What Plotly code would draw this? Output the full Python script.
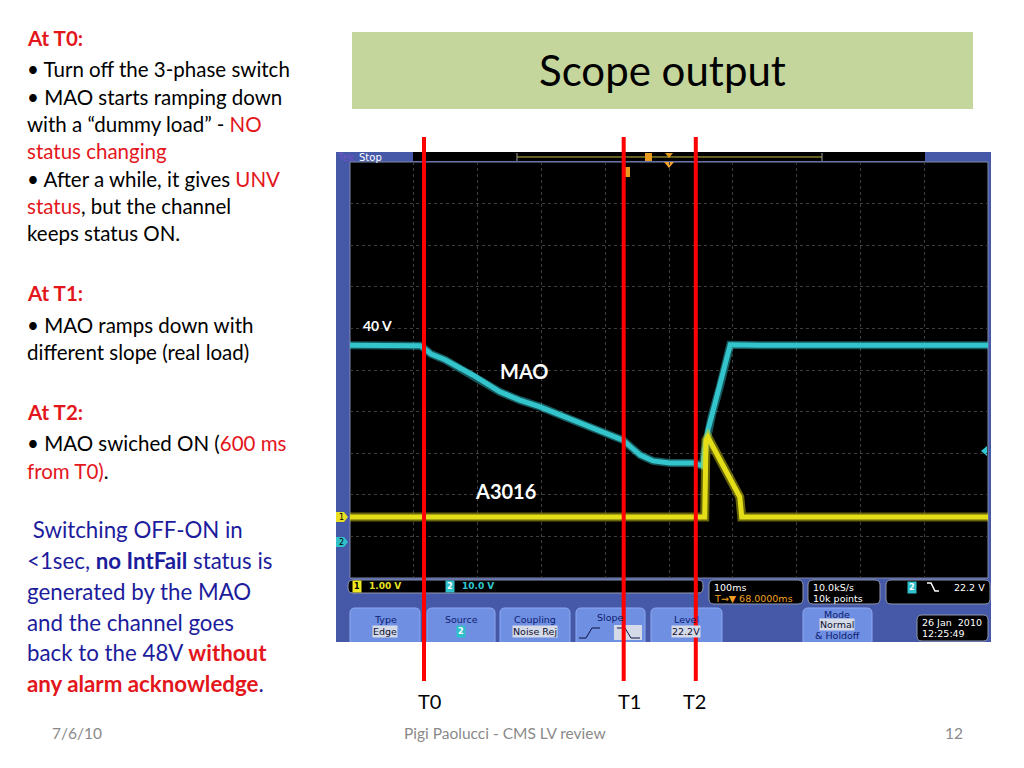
import plotly.graph_objects as go

# ---------------- data ----------------
# MAO output, channel 2 (10 V/div), time in ms relative to trigger
mao_t = [-432, -377, -322, -316, -305, -283, -239, -197, -166, -134, -83, -29, -4, 10, 23, 43, 70, 106, 121, 124, 129, 135, 148, 164, 211, 352, 568]
mao_v = [47.3, 47.4, 47.2, 46.6, 45.2, 43.8, 40.1, 36.1, 34.1, 32.5, 29.3, 26.2, 24.5, 22.6, 20.9, 19.5, 19.0, 19.0, 18.3, 22.1, 26.9, 30.3, 37.5, 47.4, 47.3, 47.2, 47.3]
# A3016 output, channel 1 (1 V/div)
a3016_t = [-432, 124, 126, 129, 138, 148, 159, 164, 175, 179, 182, 568]
a3016_v = [0.0, 0.0, 1.85, 1.92, 1.66, 1.37, 1.06, 0.96, 0.65, 0.48, 0.0, 0.0]
# time markers drawn on the slide
marker_names = ["T0", "T1", "T2"]
marker_t = [-316, -3, 110]
marker_shift = [5, 6, -1]

# screen settings
time_range = [-432, 568]     # 100 ms/div, 10 div
ch2_range = [-8.65, 91.35]   # 10 V/div
ch1_range = [-1.466, 8.534]  # 1 V/div

RED = "#e3161c"
NAVY = "#1c1c9c"
SLIDE_FONT = "Lato"
SCOPE_FONT = "DejaVu Sans"

# page has an 8 px body margin: figure covers 8..1024 x 8..768
OFF = 8
W, H = 1024 - OFF, 768 - OFF
def X(px): return (px - OFF) / W
def Y(py): return 1 - (py - OFF) / H

shapes = []
annotations = []

def rect(x0, y0, x1, y1, fill, line=None, lw=0, layer="below"):
    shapes.append(dict(type="rect", xref="paper", yref="paper",
                       x0=X(x0), x1=X(x1), y0=Y(y1), y1=Y(y0),
                       fillcolor=fill, line=dict(color=line or fill, width=lw), layer=layer))

def path(pts, fill, line=None, lw=0, closed=True, layer="below"):
    d = "M " + " L ".join(f"{X(a):.5f},{Y(b):.5f}" for a, b in pts)
    if closed:
        d += " Z"
    shapes.append(dict(type="path", xref="paper", yref="paper", path=d,
                       fillcolor=fill if closed else "rgba(0,0,0,0)",
                       line=dict(color=line or fill, width=lw), layer=layer))

def rrect(x0, y0, x1, y1, r, fill, line=None, lw=0):
    def p(a, b): return f"{X(a):.5f},{Y(b):.5f}"
    d = (f"M {p(x0+r,y0)} L {p(x1-r,y0)} Q {p(x1,y0)} {p(x1,y0+r)} "
         f"L {p(x1,y1-r)} Q {p(x1,y1)} {p(x1-r,y1)} L {p(x0+r,y1)} "
         f"Q {p(x0,y1)} {p(x0,y1-r)} L {p(x0,y0+r)} Q {p(x0,y0)} {p(x0+r,y0)} Z")
    shapes.append(dict(type="path", xref="paper", yref="paper", path=d,
                       fillcolor=fill, line=dict(color=line or fill, width=lw), layer="below"))

def txt(x, y, s, size, color="black", xanchor="left", family=SLIDE_FONT, bg=None, pad=0):
    a = dict(xref="paper", yref="paper", x=X(x), y=Y(y), text=s, showarrow=False,
             xanchor=xanchor, yanchor="middle", font=dict(family=family, size=size, color=color),
             borderpad=pad)
    if bg:
        a["bgcolor"] = bg
    annotations.append(a)

def red(s): return f"<span style='color:{RED}'>{s}</span>"

# ---------------- slide text ----------------
left_lines = [
    (38, f"<b>{red('At T0:')}</b>"),
    (69, "• Turn off the 3-phase switch"),
    (97, "• MAO starts ramping down"),
    (124, f"with a “dummy load” - {red('NO')}"),
    (151, red("status changing")),
    (179, f"• After a while, it gives {red('UNV')}"),
    (206, f"{red('status')}, but the channel"),
    (233, "keeps status ON."),
    (293, f"<b>{red('At T1:')}</b>"),
    (325, "• MAO ramps down with"),
    (352, "different slope (real load)"),
    (412, f"<b>{red('At T2:')}</b>"),
    (443, f"• MAO swiched ON ({red('600 ms')}"),
    (471, f"{red('from T0)')}."),
]
for yy, s in left_lines:
    txt(26, yy, s, 20.5)

blue_lines = [
    (529, " Switching OFF-ON in"),
    (560, "&lt;1sec, <b>no IntFail</b> status is"),
    (591, "generated by the MAO"),
    (622, "and the channel goes"),
    (652, f"back to the 48V <b>{red('without')}</b>"),
    (683, f"<b>{red('any alarm acknowledge')}</b>."),
]
for yy, s in blue_lines:
    txt(26, yy, s, 22.3, NAVY)

# title box
rect(352, 32, 973, 109, "#c4d69c")
txt(662, 70, "Scope output", 42, "black", xanchor="center")

# footer
txt(77, 733, "7/6/10", 15.5, "#8a8a8a", xanchor="center")
txt(505, 733, "Pigi Paolucci - CMS LV review", 15.5, "#8a8a8a", xanchor="center")
txt(954, 733, "12", 15.5, "#8a8a8a", xanchor="center")

# ---------------- scope chrome ----------------
FRAME = "#4659a8"
BTN = "#6f8fe2"
rect(336, 152, 991, 642, FRAME)
rect(413, 152, 925, 161, "black")
rect(350, 162, 988, 578, "black", line="#8088aa", lw=1)
# record bar
path([(517, 157), (822, 157)], None, line="#c8c040", lw=1, closed=False)
path([(517, 153), (517, 161)], None, line="#a0a0a0", lw=1, closed=False)
path([(822, 153), (822, 161)], None, line="#a0a0a0", lw=1, closed=False)
rect(645, 153, 652, 161, "#e89a20")
path([(665, 153), (673, 153), (669, 158)], "#e89a20")
# trigger position markers
path([(664, 162), (674, 162), (669, 168)], "#f0a030")
rect(624, 167, 630, 177, "#e89a20")
# channel ground markers
path([(336, 512), (344, 512), (348, 517), (344, 522), (336, 522)], "#e8e020")
path([(336, 537), (344, 537), (348, 542), (344, 547), (336, 547)], "#30c0c8")
txt(341, 517, "1", 8, "black", xanchor="center", family=SCOPE_FONT)
txt(341, 542, "2", 8, "black", xanchor="center", family=SCOPE_FONT)
# trigger level
path([(981, 451), (987, 446), (987, 456)], "#30c8d0")

txt(336, 157, "Tek", 10, "#7050c8", family=SCOPE_FONT)
txt(358, 157, "Stop", 10, "white", family=SCOPE_FONT)

# readout boxes
rrect(348, 580, 703, 593, 5, "black", line="#9098b0", lw=1)
rrect(709, 580, 803, 604, 5, "black", line="#9098b0", lw=1)
rrect(808, 580, 880, 604, 5, "black", line="#9098b0", lw=1)
rrect(886, 580, 990, 604, 5, "black", line="#9098b0", lw=1)
txt(357, 586, "<b>1</b>", 8, "black", xanchor="center", family=SCOPE_FONT, bg="#f0e820", pad=1)
txt(368, 586, "<b>1.00 V</b>", 9, "#e8e020", family=SCOPE_FONT)
txt(450, 586, "<b>2</b>", 8, "white", xanchor="center", family=SCOPE_FONT, bg="#30c0cc", pad=1)
txt(461, 586, "<b>10.0 V</b>", 9, "#30c8d0", family=SCOPE_FONT)
txt(713, 587, "100ms", 9.5, "white", family=SCOPE_FONT)
txt(713, 598, "T→▼ 68.0000ms", 9.5, "#f0a020", family=SCOPE_FONT)
txt(812, 587, "10.0kS/s", 9.5, "white", family=SCOPE_FONT)
txt(812, 598, "10k points", 9.5, "white", family=SCOPE_FONT)
txt(912, 587, "<b>2</b>", 8, "white", xanchor="center", family=SCOPE_FONT, bg="#30c0cc", pad=1)
path([(927, 583), (931, 583), (935, 591), (939, 591)], None, line="white", lw=1.5, closed=False)
txt(986, 587, "22.2 V", 9.5, "white", xanchor="right", family=SCOPE_FONT)

# menu buttons
buttons = [(350, 420), (427, 495), (500, 570), (576, 645), (651, 722), (803, 872)]
for b0, b1 in buttons:
    rrect(b0, 608, b1, 650, 5, BTN, line="#8eaaf0", lw=1)
rect(336, 642, 991, 652, "white")
BT = "#0e2070"
HL = "#d4dae8"
txt(385, 619, "Type", 9.5, BT, xanchor="center", family=SCOPE_FONT)
txt(385, 631, "Edge", 9.5, "#101030", xanchor="center", family=SCOPE_FONT, bg=HL)
txt(461, 619, "Source", 9.5, BT, xanchor="center", family=SCOPE_FONT)
txt(461, 631, "<b>2</b>", 8, "white", xanchor="center", family=SCOPE_FONT, bg="#30c0cc", pad=1)
txt(535, 619, "Coupling", 9.5, BT, xanchor="center", family=SCOPE_FONT)
txt(535, 631, "Noise Rej", 9.5, "#101030", xanchor="center", family=SCOPE_FONT, bg=HL)
txt(610, 617, "Slope", 9.5, BT, xanchor="center", family=SCOPE_FONT)
path([(579, 638), (586, 638), (592, 628), (600, 628)], None, line="#101040", lw=1, closed=False)
rect(614, 625, 642, 640, HL)
path([(617, 628), (625, 628), (631, 638), (640, 638)], None, line="#101040", lw=1, closed=False)
txt(686, 619, "Level", 9.5, BT, xanchor="center", family=SCOPE_FONT)
txt(686, 631, "22.2V", 9.5, "#101030", xanchor="center", family=SCOPE_FONT, bg=HL)
txt(837, 614, "Mode", 9.5, BT, xanchor="center", family=SCOPE_FONT)
txt(837, 624, "Normal", 9.5, "#101030", xanchor="center", family=SCOPE_FONT, bg=HL)
txt(837, 635, "& Holdoff", 9.5, BT, xanchor="center", family=SCOPE_FONT)
rrect(917, 615, 988, 641, 5, "black", line="#9098b0", lw=1)
txt(921, 622, "26 Jan  2010", 9.5, "white", family=SCOPE_FONT)
txt(921, 633, "12:25:49", 9.5, "white", family=SCOPE_FONT)

# trace labels
txt(362, 325, "<b>40 V</b>", 14, "white")
txt(524, 371, "<b>MAO</b>", 20, "white", xanchor="center")
txt(505, 491, "<b>A3016</b>", 20, "white", xanchor="center")

# ---------------- red time markers ----------------
for name, t, sh in zip(marker_names, marker_t, marker_shift):
    shapes.append(dict(type="line", xref="x", yref="paper", x0=t, x1=t,
                       y0=Y(681), y1=Y(137), line=dict(color="#ff0000", width=4), layer="above"))
    annotations.append(dict(xref="x", yref="paper", x=t, y=Y(701), text=name, showarrow=False,
                            xanchor="center", yanchor="middle", xshift=sh,
                            font=dict(family=SLIDE_FONT, size=20, color="black")))

# ---------------- traces ----------------
CYAN = "#33c4cc"
YEL = "#e4de18"
fig = go.Figure()
fig.add_trace(go.Scatter(x=mao_t, y=mao_v, mode="lines", yaxis="y",
                         line=dict(color=CYAN, width=8), opacity=0.45, hoverinfo="skip"))
fig.add_trace(go.Scatter(x=mao_t, y=mao_v, mode="lines", yaxis="y",
                         line=dict(color=CYAN, width=5), name="MAO"))
fig.add_trace(go.Scatter(x=a3016_t, y=a3016_v, mode="lines", yaxis="y2",
                         line=dict(color=YEL, width=9), opacity=0.45, hoverinfo="skip"))
fig.add_trace(go.Scatter(x=a3016_t, y=a3016_v, mode="lines", yaxis="y2",
                         line=dict(color=YEL, width=5), name="A3016"))

grid = dict(showgrid=True, gridcolor="#3e3e3e", griddash="dot", gridwidth=1,
            zeroline=False, showline=False, showticklabels=False, ticks="")
fig.update_layout(
    width=W, height=H, margin=dict(l=0, r=0, t=0, b=0),
    paper_bgcolor="white", plot_bgcolor="black", showlegend=False,
    xaxis=dict(domain=[X(350), X(988)], range=time_range, tick0=time_range[0], dtick=100, **grid),
    yaxis=dict(domain=[Y(578), Y(162)], range=ch2_range, tick0=ch2_range[0], dtick=10, **grid),
    yaxis2=dict(overlaying="y", range=ch1_range, showgrid=False, zeroline=False,
                showticklabels=False, ticks=""),
    shapes=shapes, annotations=annotations,
)
fig.write_html("out.html")
